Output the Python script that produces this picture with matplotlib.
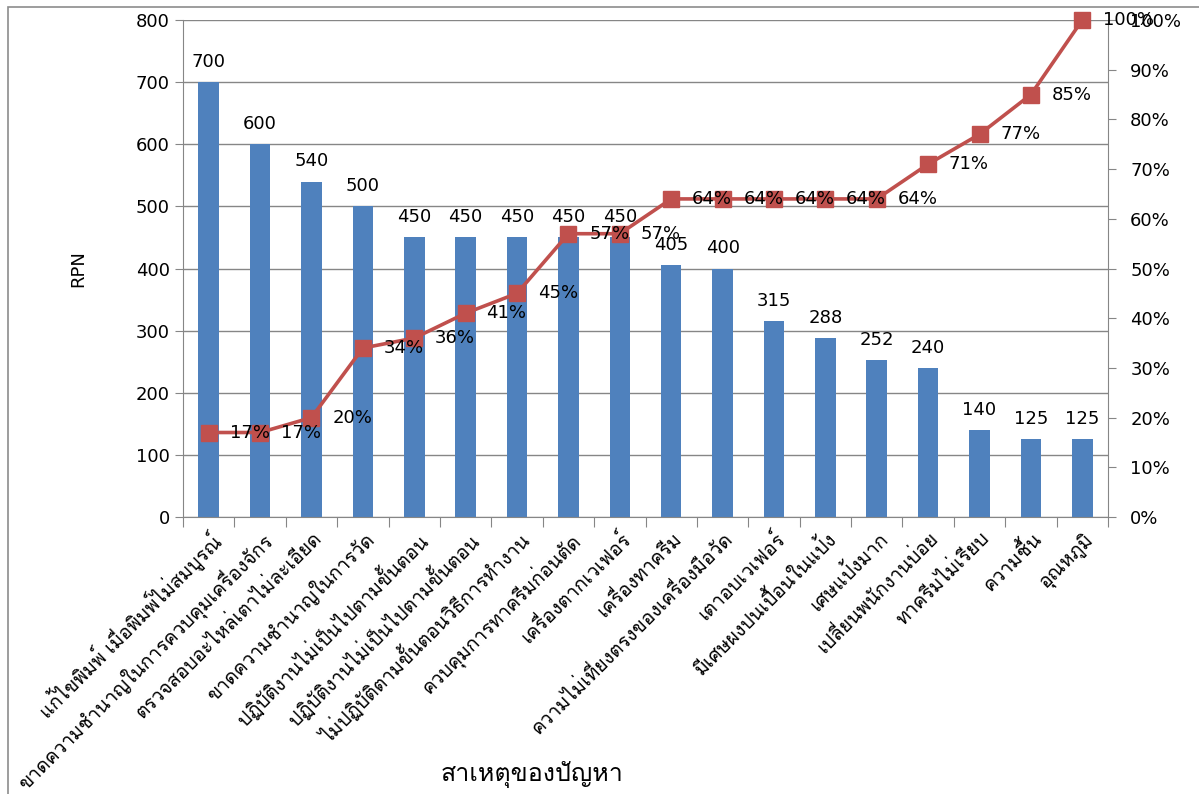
import matplotlib
matplotlib.use("Agg")
import matplotlib.pyplot as plt
from matplotlib.patches import Rectangle
from matplotlib.ticker import FuncFormatter

# ─── data ────────────────────────────────────────────────────────────────────
causes = [
    "แก้ไขพิมพ์ เมื่อพิมพ์ไม่สมบูรณ์",
    "ขาดความชำนาญในการควบคุมเครื่องจักร",
    "ตรวจสอบอะไหล่เตาไม่ละเอียด",
    "ขาดความชำนาญในการวัด",
    "ปฏิบัติงานไม่เป็นไปตามขั้นตอน",
    "ปฏิบัติงานไม่เป็นไปตามขั้นตอน",
    "ไม่ปฏิบัติตามขั้นตอนวิธีการทำงาน",
    "ควบคุมการทาครีมก่อนตัด",
    "เครื่องตากเวเฟอร์",
    "เครื่องทาครีม",
    "ความไม่เที่ยงตรงของเครื่องมือวัด",
    "เตาอบเวเฟอร์",
    "มีเศษผงปนเปื้อนในแป้ง",
    "เศษแป้งมาก",
    "เปลี่ยนพนักงานบ่อย",
    "ทาครีมไม่เรียบ",
    "ความชื้น",
    "อุณหภูมิ",
]
rpn = [700, 600, 540, 500, 450, 450, 450, 450, 450, 405, 400, 315, 288, 252, 240, 140, 125, 125]
cum_pct = [17, 17, 20, 34, 36, 41, 45, 57, 57, 64, 64, 64, 64, 64, 71, 77, 85, 100]

# digits/latin from DejaVu, Thai glyphs fall through to Loma
plt.rcParams["font.family"] = ["DejaVu Sans", "Loma"]

BAR = "#4F81BD"
LINE = "#C0504D"
GRID = "#868686"

fig = plt.figure(figsize=(11.99, 7.94), dpi=100)
# outer chart-area border
fig.patches.append(Rectangle((8 / 1199, -0.1), 1.2, 1.1 - 7 / 794,
                             transform=fig.transFigure, fill=False,
                             edgecolor="#8C8C8C", linewidth=1.2))

ax = fig.add_axes([183 / 1199, 1 - 517 / 794, 925 / 1199, 497 / 794])
x = list(range(len(causes)))
ax.bar(x, rpn, width=0.4, color=BAR, zorder=2)
ax.set_xlim(-0.5, len(causes) - 0.5)
ax.set_ylim(0, 800)
ax.set_yticks(range(0, 801, 100))
ax.grid(axis="y", color=GRID, linewidth=1, zorder=0)
ax.set_axisbelow(True)
for s in ("left", "bottom", "right"):
    ax.spines[s].set_color(GRID)
ax.spines["top"].set_visible(False)
ax.tick_params(axis="y", colors="black", labelsize=13, length=6, color=GRID)

# boundary tick marks between categories, labels at the centres
ax.set_xticks([i - 0.5 for i in range(len(causes) + 1)])
ax.set_xticklabels([])
ax.tick_params(axis="x", length=7, color=GRID)
ax.set_xticks(x, minor=True)
ax.set_xticklabels(causes, minor=True, rotation=45, ha="right",
                   rotation_mode="anchor", fontsize=14)
ax.tick_params(axis="x", which="minor", length=0, pad=8)

for xi, v in zip(x, rpn):
    ax.annotate(str(v), (xi, v), xytext=(0, 8), textcoords="offset points",
                ha="center", va="bottom", fontsize=13, zorder=5)

ax2 = ax.twinx()
ax2.set_ylim(0, 100)
ax2.set_yticks(range(0, 101, 10))
ax2.yaxis.set_major_formatter(FuncFormatter(lambda v, _: f"{v:.0f}%"))
ax2.tick_params(axis="y", labelsize=13, length=6, color=GRID, pad=10)
for s in ax2.spines.values():
    s.set_visible(False)
ax2.plot(x, cum_pct, color=LINE, linewidth=2.6, marker="s", markersize=12,
         zorder=3, clip_on=False)
for xi, p in zip(x, cum_pct):
    ax2.annotate(f"{p}%", (xi, p), xytext=(15, 0), textcoords="offset points",
                 ha="left", va="center", fontsize=13, zorder=6,
                 annotation_clip=False)

ax.set_ylabel("RPN", fontsize=13)
ax.yaxis.set_label_coords(-0.104, 0.5)
fig.text(532 / 1199, 1 - 775 / 794, "สาเหตุของปัญหา", ha="center",
         va="center", fontsize=18)

fig.savefig("out.png", dpi=100)
